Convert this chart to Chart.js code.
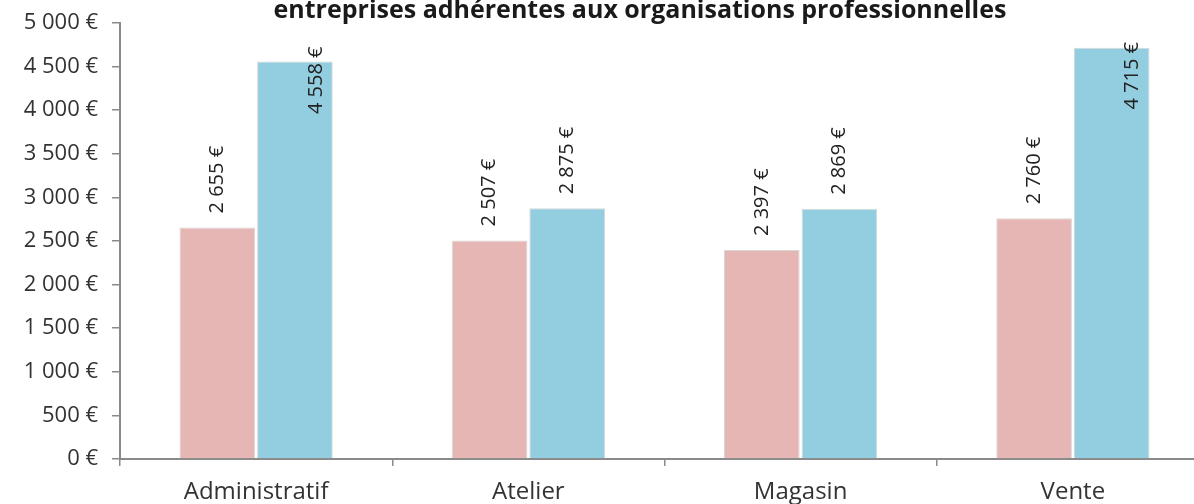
<!DOCTYPE html>
<html lang="fr">
<head>
<meta charset="utf-8">
<title>Salaires moyens par métier</title>
<script src="https://cdn.jsdelivr.net/npm/chart.js@4/dist/chart.umd.min.js"></script>
<style>
  html, body { margin: 0; padding: 0; background: #ffffff; overflow: hidden; }
  #wrap { position: relative; width: 1232px; height: 504px; }
</style>
</head>
<body>
<div id="wrap"><canvas id="chart" width="1232" height="504"></canvas></div>
<script>
// Catégories de postes et montants moyens (en euros)
const categories = ['Administratif', 'Atelier', 'Magasin', 'Vente'];
const serie1 = [2655, 2507, 2397, 2760];
const serie2 = [4558, 2875, 2869, 4715];
const yTicks = [0, 500, 1000, 1500, 2000, 2500, 3000, 3500, 4000, 4500, 5000];
const titleText = 'entreprises adhérentes aux organisations professionnelles';

const FONT = "'Open Sans', 'Noto Sans', sans-serif";
const AXIS_GREY = '#8a8a8a';

function euro(v) {
  return String(v).replace(/\B(?=(\d{3})+(?!\d))/g, ' ') + ' €';
}

// Titre dessiné au-dessus de la zone de tracé
const titlePlugin = {
  id: 'topTitle',
  afterDraw(chart) {
    const ctx = chart.ctx;
    ctx.save();
    ctx.font = "bold 25px " + FONT;
    ctx.fillStyle = '#1a1a1a';
    ctx.textAlign = 'center';
    ctx.textBaseline = 'alphabetic';
    ctx.fillText(titleText, 640, 18);
    ctx.restore();
  }
};

// Étiquettes de valeur verticales au-dessus de chaque barre
const valueLabels = {
  id: 'valueLabels',
  afterDatasetsDraw(chart) {
    const ctx = chart.ctx;
    const top = chart.chartArea.top;
    ctx.save();
    ctx.font = "20px " + FONT;
    ctx.fillStyle = '#222222';
    ctx.textAlign = 'left';
    ctx.textBaseline = 'middle';
    chart.data.datasets.forEach((ds, di) => {
      const meta = chart.getDatasetMeta(di);
      meta.data.forEach((bar, i) => {
        const txt = euro(ds.data[i]);
        const w = ctx.measureText(txt).width;
        let x = bar.x;
        let start = bar.y - 14;
        if (start - w < top) {
          // pas assez de place : l'étiquette chevauche le haut de la barre
          const end = Math.max(top + 19, bar.y - 15);
          start = end + w;
          x = bar.x + 21;
        }
        ctx.save();
        ctx.translate(x, start);
        ctx.rotate(-Math.PI / 2);
        ctx.fillText(txt, 0, 0);
        ctx.restore();
      });
    });
    ctx.restore();
  }
};

new Chart(document.getElementById('chart'), {
  type: 'bar',
  data: {
    labels: categories,
    datasets: [
      {
        label: 'Série 1',
        data: serie1,
        backgroundColor: '#e6b6b5',
        borderColor: 'rgba(205,205,205,0.8)',
        borderWidth: 1,
        barPercentage: 0.975,
        categoryPercentage: 0.57
      },
      {
        label: 'Série 2',
        data: serie2,
        backgroundColor: '#93cde0',
        borderColor: 'rgba(205,205,205,0.8)',
        borderWidth: 1,
        barPercentage: 0.975,
        categoryPercentage: 0.57
      }
    ]
  },
  options: {
    responsive: false,
    animation: false,
    layout: { padding: { top: 23, right: 23, left: 0, bottom: 0 } },
    plugins: {
      legend: { display: false },
      tooltip: { enabled: false },
      title: { display: false }
    },
    scales: {
      x: {
        offset: true,
        grid: {
          offset: true,
          drawOnChartArea: false,
          drawTicks: true,
          tickLength: 7,
          color: AXIS_GREY,
          lineWidth: 1.5
        },
        border: { color: AXIS_GREY, width: 2 },
        ticks: {
          color: '#333333',
          font: { family: FONT, size: 24 },
          padding: 12
        },
        afterFit(scale) { scale.height = 45; }
      },
      y: {
        min: 0,
        max: 5000,
        afterBuildTicks(scale) { scale.ticks = yTicks.map(v => ({ value: v })); },
        grid: {
          drawOnChartArea: false,
          drawTicks: true,
          tickLength: 8,
          color: AXIS_GREY,
          lineWidth: 1.5
        },
        border: { color: AXIS_GREY, width: 2 },
        ticks: {
          color: '#333333',
          font: { family: FONT, size: 22 },
          padding: 14,
          callback: v => euro(v)
        },
        afterFit(scale) {
          scale.width = 120;
          scale.paddingTop = 0;
          scale.paddingBottom = 0;
        }
      }
    }
  },
  plugins: [valueLabels, titlePlugin]
});
</script>
</body>
</html>
